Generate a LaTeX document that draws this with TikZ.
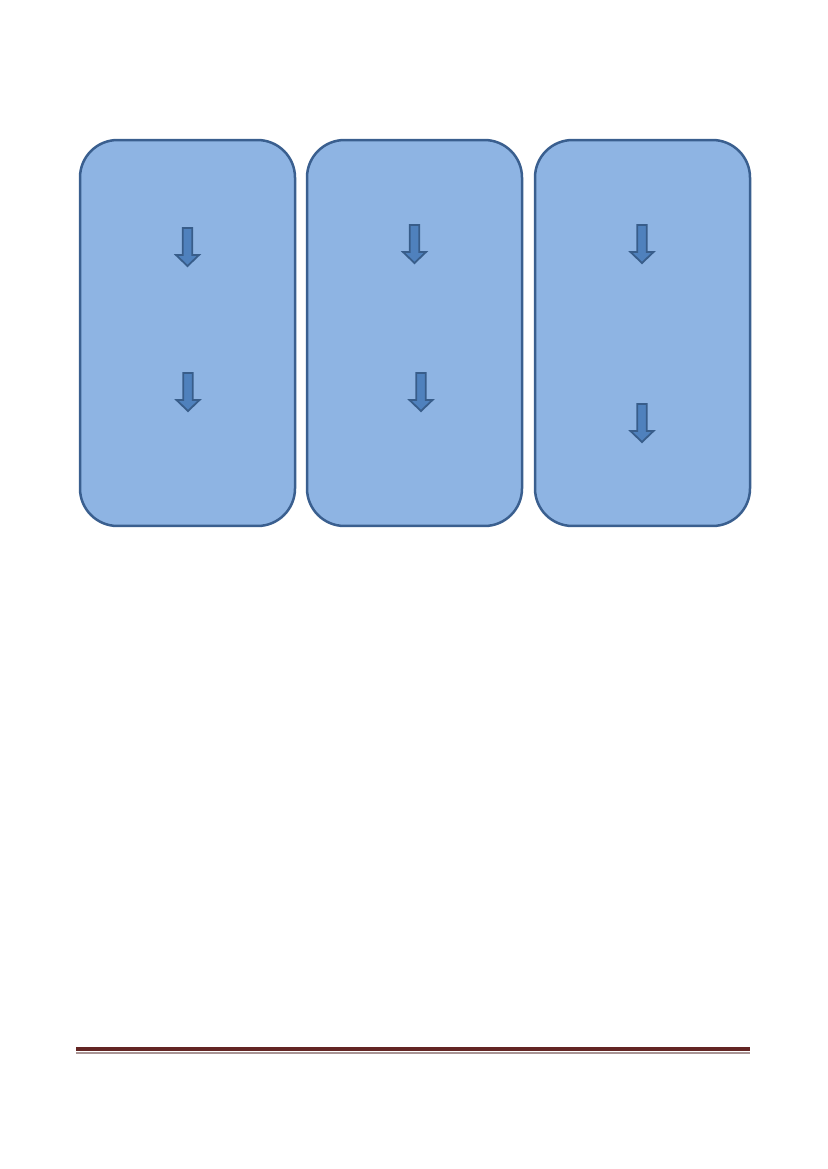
\documentclass[tikz,border=0pt]{standalone}
\usepackage{tikz}
\definecolor{boxfill}{HTML}{8EB4E3}
\definecolor{boxline}{HTML}{3A5F8F}
\definecolor{arrfill}{HTML}{4F81BD}
\definecolor{arrline}{HTML}{385D8A}
\definecolor{rulered}{HTML}{632523}
\definecolor{rulegray}{HTML}{A89494}
\tikzset{
  stagebox/.style={draw=boxline,line width=1.8pt,fill=boxfill,rounded corners=27pt,
    minimum width=154.8pt,minimum height=277.9pt,inner sep=0pt},
  blockarrow/.style={draw=arrline,line width=1.3pt,fill=arrfill,line join=miter}
}
\begin{document}
\begin{tikzpicture}[x=0.72pt,y=-0.72pt]
\useasboundingbox (0,0) rectangle (827,1169);
\node[stagebox](box1) at (187.5,333){};
\node[stagebox](box2) at (414.5,333){};
\node[stagebox](box3) at (642.5,333){};
\foreach \cx/\ty in {187.5/228,188/373,414.5/225,421/373,642/225,642/404}
  \draw[blockarrow](\cx-4.8,\ty)--(\cx+4.8,\ty)--(\cx+4.8,\ty+27)--(\cx+11.5,\ty+27)
    --(\cx,\ty+38)--(\cx-11.5,\ty+27)--(\cx-4.8,\ty+27)--cycle;
\draw[rulered,line width=3.1pt](76,1049)--(750,1049);
\draw[rulegray,line width=1.2pt](76,1053)--(750,1053);
\end{tikzpicture}
\end{document}
